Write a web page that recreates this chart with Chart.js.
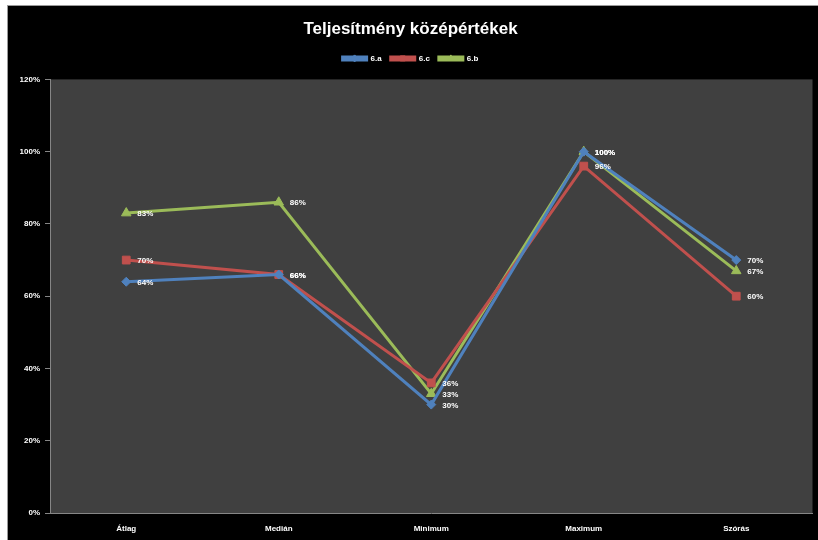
<!DOCTYPE html>
<html>
<head>
<meta charset="utf-8">
<script src="https://cdn.jsdelivr.net/npm/chart.js@4.4.0/dist/chart.umd.min.js"></script>
<style>
  body { margin: 0; background: #fff; }
  #wrap {
    position: absolute; left: 7px; top: 5px; width: 811px; height: 535px;
    background: #000; border-left: 1px solid #9a9a9a; border-top: 1px solid #9a9a9a;
  }
</style>
</head>
<body>
<div id="wrap"><canvas id="grafico"></canvas></div>
<script>
var kategoriak = ['Átlag', 'Medián', 'Minimum', 'Maximum', 'Szórás'];
var osztalyA = [64, 66, 30, 100, 70];
var osztalyC = [70, 66, 36, 96, 60];
var osztalyB = [83, 86, 33, 100, 67];
var yTicks = [0, 20, 40, 60, 80, 100, 120];

var betu = 'Liberation Sans';

// plot area háttér
var hatter = {
    id: 'hatter',
    beforeDraw: function (chart) {
        var a = chart.chartArea, ctx = chart.ctx;
        ctx.save();
        ctx.fillStyle = '#404040';
        ctx.fillRect(a.left, a.top, a.right - a.left, a.bottom - a.top);
        ctx.restore();
    }
};

// adatcímkék a pontok mellé
var cimkek = {
    id: 'cimkek',
    afterDatasetsDraw: function (chart) {
        var ctx = chart.ctx;
        ctx.save();
        ctx.font = 'bold 8px ' + betu;
        ctx.fillStyle = '#ffffff';
        ctx.textAlign = 'left';
        ctx.textBaseline = 'middle';
        chart.data.datasets.forEach(function (ds, i) {
            chart.getDatasetMeta(i).data.forEach(function (pt, j) {
                ctx.fillText(ds.data[j] + '%', pt.x + 11, pt.y + 1);
            });
        });
        ctx.restore();
    }
};

// jelmagyarázat: vonal közepére jelölő
var jelolok = {
    id: 'jelolok',
    beforeInit: function (chart) {
        var eredeti = chart.legend.fit;
        chart.legend.fit = function () {
            eredeti.call(this);
            this.height += 7;
        };
    },
    afterDraw: function (chart) {
        var lg = chart.legend, ctx = chart.ctx;
        if (!lg || !lg.legendHitBoxes) return;
        lg.legendHitBoxes.forEach(function (hb, i) {
            var ds = chart.data.datasets[i];
            ctx.save();
            ctx.fillStyle = ds.borderColor;
            ctx.strokeStyle = ds.borderColor;
            Chart.helpers.drawPoint(ctx, {
                pointStyle: ds.pointStyle, radius: 3.5, rotation: 0, borderWidth: 1
            }, hb.left + 12, hb.top + hb.height / 2);
            ctx.restore();
        });
    }
};

new Chart(document.getElementById('grafico').getContext('2d'), {
    type: 'line',
    data: {
        labels: kategoriak,
        datasets: [
            { label: '6.a', data: osztalyA, borderColor: '#4F81BD', backgroundColor: '#4F81BD',
              pointStyle: 'rectRot', pointRadius: 4.5 },
            { label: '6.c', data: osztalyC, borderColor: '#C0504D', backgroundColor: '#C0504D',
              pointStyle: 'rect', pointRadius: 5.5 },
            { label: '6.b', data: osztalyB, borderColor: '#9BBB59', backgroundColor: '#9BBB59',
              pointStyle: 'triangle', pointRadius: 5.5 }
        ]
    },
    options: {
        responsive: true,
        maintainAspectRatio: false,
        animation: false,
        layout: { padding: { left: 0, right: 6, top: 0, bottom: 0 } },
        elements: {
            line: { borderWidth: 3, tension: 0 },
            point: { borderWidth: 1 }
        },
        plugins: {
            title: {
                display: true,
                text: 'Teljesítmény középértékek',
                color: '#ffffff',
                font: { family: betu, size: 17, weight: 'bold' },
                padding: { top: 13, bottom: 6 }
            },
            legend: {
                display: true,
                labels: {
                    color: '#ffffff',
                    font: { family: betu, size: 8, weight: 'bold' },
                    boxWidth: 24,
                    boxHeight: 3,
                    padding: 9
                }
            },
            tooltip: { enabled: false }
        },
        scales: {
            x: {
                offset: true,
                grid: { display: true, drawOnChartArea: false, drawTicks: false, color: '#868686' },
                border: { color: '#868686', width: 1 },
                ticks: { color: '#ffffff', font: { family: betu, size: 8, weight: 'bold' }, padding: 11 },
                afterFit: function (s) { s.height = 28; }
            },
            y: {
                min: 0,
                max: 120,
                afterBuildTicks: function (s) {
                    s.ticks = yTicks.map(function (v) { return { value: v }; });
                },
                grid: { drawOnChartArea: false, drawTicks: true, tickLength: 5, color: '#868686' },
                border: { color: '#868686', width: 1 },
                ticks: {
                    color: '#ffffff',
                    font: { family: betu, size: 8, weight: 'bold' },
                    padding: 5,
                    callback: function (v) { return v + '%'; }
                },
                afterFit: function (s) { s.width = 42; }
            }
        }
    },
    plugins: [hatter, cimkek, jelolok]
});
</script>
</body>
</html>
